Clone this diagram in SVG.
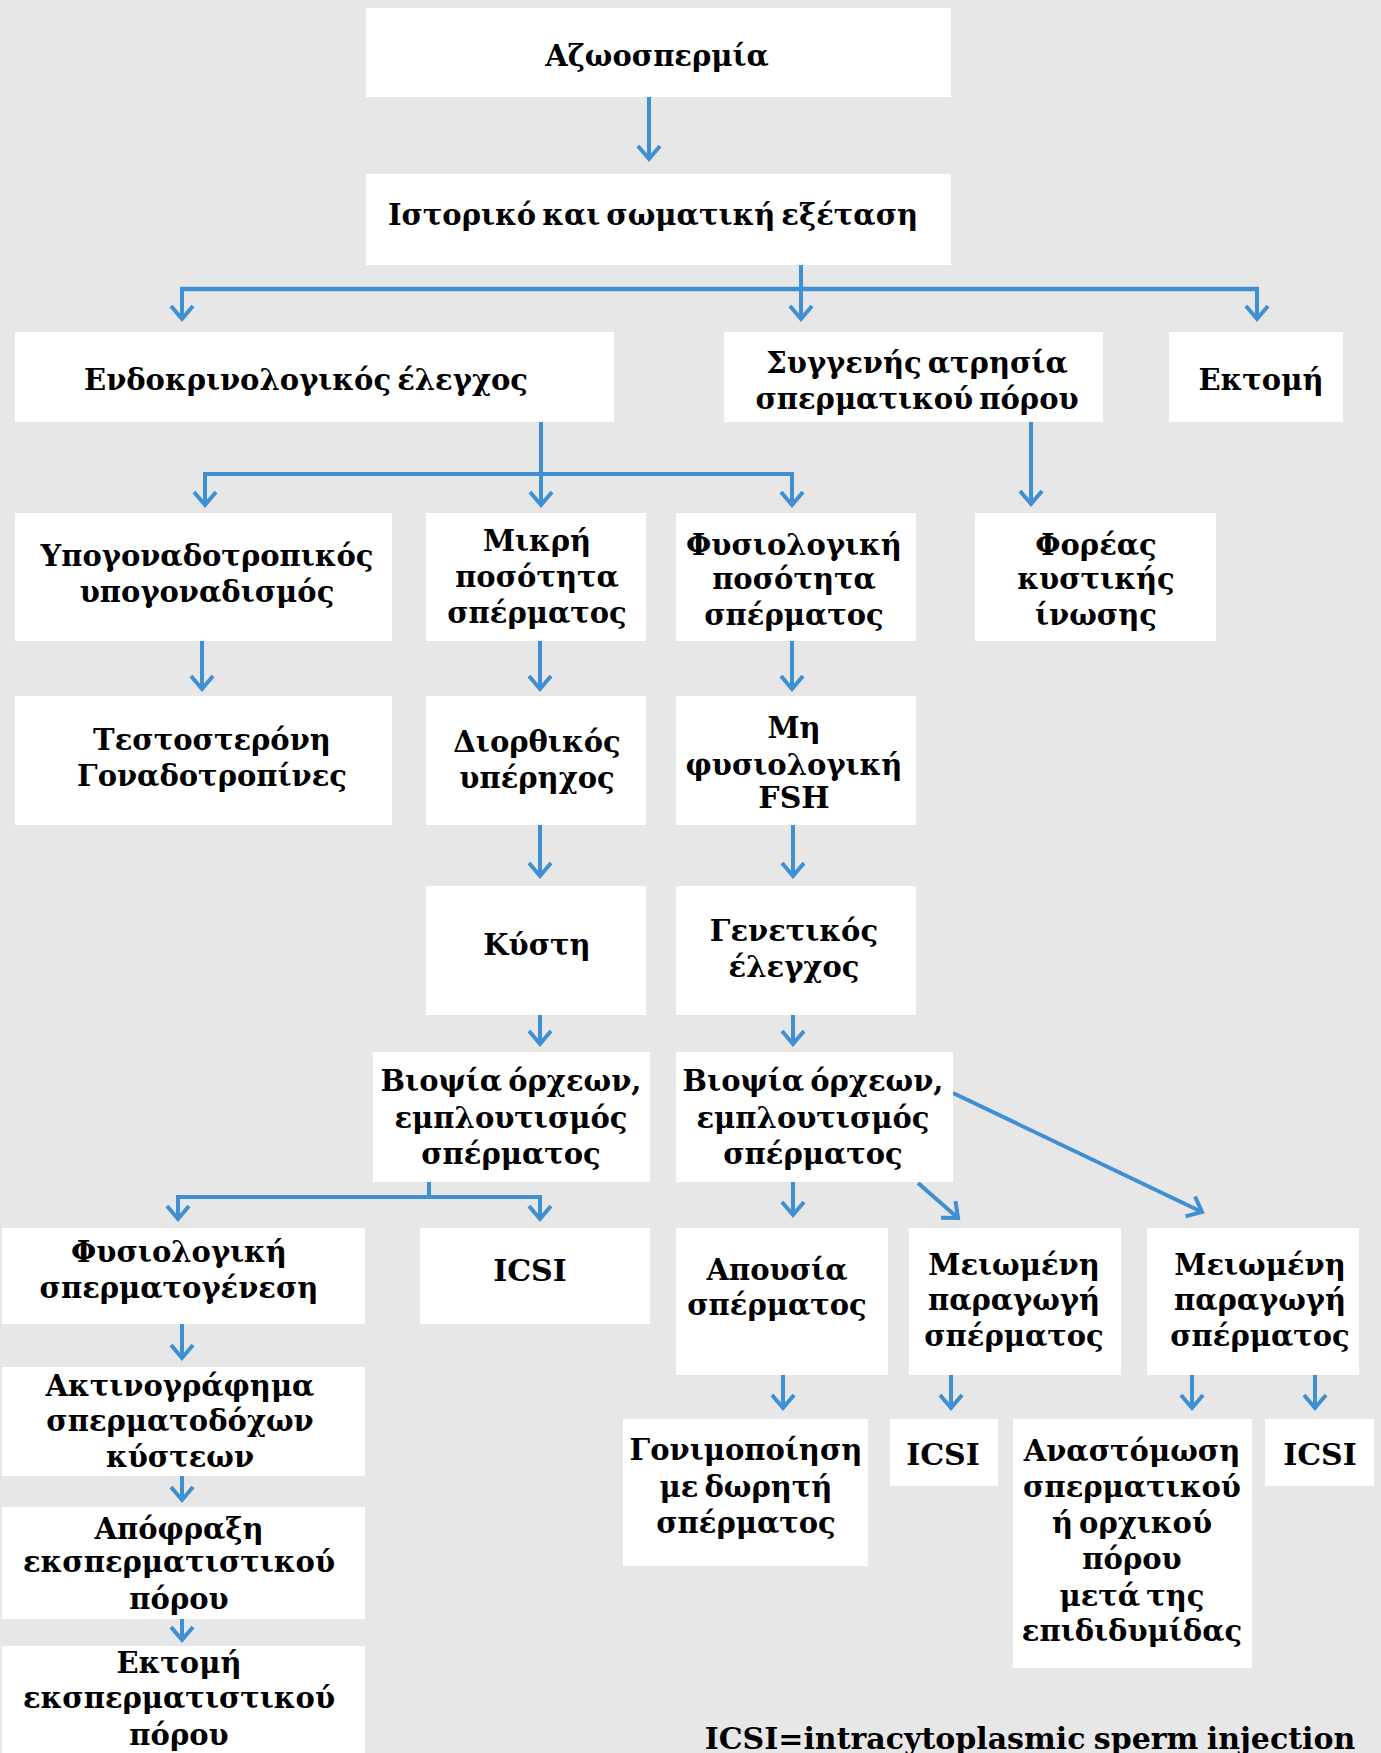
<svg xmlns="http://www.w3.org/2000/svg" width="1381" height="1753" viewBox="0 0 1381 1753">
<style>
.bg{fill:#e7e7e7}
.box{fill:#ffffff}
.t{font-family:"DejaVu Serif","Liberation Serif",serif;font-weight:bold;font-size:29px;word-spacing:-4px;fill:#000;text-anchor:middle}
.l{font-size:30px}
.c{stroke:#3f8fd4;stroke-width:4;fill:none}
.a{marker-end:url(#arr)}
</style>
<defs>
<marker id="arr" markerUnits="userSpaceOnUse" viewBox="-16 -14 20 28" markerWidth="20" markerHeight="28" refX="0" refY="0" orient="auto">
<path d="M-13,-11 L0,0 L-13,11" fill="none" stroke="#3f8fd4" stroke-width="4"/>
</marker>
</defs>
<rect class="bg" x="0" y="0" width="1381" height="1753"/>
<g id="connectors">
<line class="c a" x1="649" y1="97" x2="649" y2="159"/>
<line class="c a" x1="801" y1="265" x2="801" y2="319"/>
<line class="c" x1="180" y1="289" x2="1259" y2="289" style="stroke-width:4.5"/>
<line class="c a" x1="182" y1="287" x2="182" y2="319"/>
<line class="c a" x1="1257" y1="287" x2="1257" y2="319"/>
<line class="c a" x1="541" y1="422" x2="541" y2="505"/>
<line class="c" x1="203" y1="474" x2="794" y2="474"/>
<line class="c a" x1="205" y1="472" x2="205" y2="505"/>
<line class="c a" x1="792" y1="472" x2="792" y2="505"/>
<line class="c a" x1="1031" y1="422" x2="1031" y2="504"/>
<line class="c a" x1="202" y1="641" x2="202" y2="689"/>
<line class="c a" x1="540" y1="641" x2="540" y2="689"/>
<line class="c a" x1="792" y1="641" x2="792" y2="689"/>
<line class="c a" x1="540" y1="825" x2="540" y2="876"/>
<line class="c a" x1="793" y1="825" x2="793" y2="876"/>
<line class="c a" x1="540" y1="1015" x2="540" y2="1044"/>
<line class="c a" x1="793" y1="1015" x2="793" y2="1044"/>
<line class="c" x1="429" y1="1182" x2="429" y2="1197"/>
<line class="c" x1="176" y1="1197" x2="542" y2="1197"/>
<line class="c a" x1="178" y1="1195" x2="178" y2="1219"/>
<line class="c a" x1="540" y1="1195" x2="540" y2="1219"/>
<line class="c a" x1="793" y1="1182" x2="793" y2="1215"/>
<line class="c a" x1="918" y1="1183" x2="958" y2="1218"/>
<line class="c a" x1="953" y1="1093" x2="1202" y2="1212"/>
<line class="c a" x1="182" y1="1324" x2="182" y2="1358"/>
<line class="c a" x1="182" y1="1476" x2="182" y2="1500"/>
<line class="c a" x1="182" y1="1619" x2="182" y2="1640"/>
<line class="c a" x1="783" y1="1375" x2="783" y2="1408"/>
<line class="c a" x1="951" y1="1375" x2="951" y2="1408"/>
<line class="c a" x1="1192" y1="1375" x2="1192" y2="1408"/>
<line class="c a" x1="1315" y1="1375" x2="1315" y2="1408"/>
</g>
<g id="n1"><rect class="box" x="366" y="8" width="585" height="89"/><text class="t" x="657" y="66">Αζωοσπερμία</text></g>
<g id="n2"><rect class="box" x="366" y="174" width="585" height="91"/><text class="t" x="653" y="225">Ιστορικό και σωματική εξέταση</text></g>
<g id="n3"><rect class="box" x="15" y="332" width="599" height="90"/><text class="t" x="306" y="390">Ενδοκρινολογικός έλεγχος</text></g>
<g id="n4"><rect class="box" x="724" y="332" width="379" height="90"/><text class="t" x="917" y="373">Συγγενής ατρησία</text><text class="t" x="917" y="409">σπερματικού πόρου</text></g>
<g id="n5"><rect class="box" x="1169" y="332" width="174" height="90"/><text class="t" x="1261" y="390">Εκτομή</text></g>
<g id="n6"><rect class="box" x="15" y="513" width="377" height="128"/><text class="t" x="207" y="566">Υπογοναδοτροπικός</text><text class="t" x="207" y="602">υπογοναδισμός</text></g>
<g id="n7"><rect class="box" x="426" y="513" width="220" height="128"/><text class="t" x="537" y="551">Μικρή</text><text class="t" x="537" y="587">ποσότητα</text><text class="t" x="537" y="623">σπέρματος</text></g>
<g id="n8"><rect class="box" x="676" y="513" width="240" height="128"/><text class="t" x="794" y="555">Φυσιολογική</text><text class="t" x="794" y="589">ποσότητα</text><text class="t" x="794" y="625">σπέρματος</text></g>
<g id="n9"><rect class="box" x="975" y="513" width="241" height="128"/><text class="t" x="1096" y="555">Φορέας</text><text class="t" x="1096" y="589">κυστικής</text><text class="t" x="1096" y="625">ίνωσης</text></g>
<g id="n10"><rect class="box" x="15" y="696" width="377" height="129"/><text class="t" x="212" y="750">Τεστοστερόνη</text><text class="t" x="212" y="786">Γοναδοτροπίνες</text></g>
<g id="n11"><rect class="box" x="426" y="696" width="220" height="129"/><text class="t" x="537" y="752">Διορθικός</text><text class="t" x="537" y="788">υπέρηχος</text></g>
<g id="n12"><rect class="box" x="676" y="696" width="240" height="129"/><text class="t" x="794" y="738">Μη</text><text class="t" x="794" y="775">φυσιολογική</text><text class="t l" x="794" y="808">FSH</text></g>
<g id="n13"><rect class="box" x="426" y="886" width="220" height="129"/><text class="t" x="537" y="955">Κύστη</text></g>
<g id="n14"><rect class="box" x="676" y="886" width="240" height="129"/><text class="t" x="794" y="941">Γενετικός</text><text class="t" x="794" y="977">έλεγχος</text></g>
<g id="n15"><rect class="box" x="373" y="1052" width="277" height="130"/><text class="t" x="511" y="1091">Βιοψία όρχεων,</text><text class="t" x="511" y="1128">εμπλουτισμός</text><text class="t" x="511" y="1164">σπέρματος</text></g>
<g id="n16"><rect class="box" x="676" y="1052" width="277" height="130"/><text class="t" x="813" y="1091">Βιοψία όρχεων,</text><text class="t" x="813" y="1128">εμπλουτισμός</text><text class="t" x="813" y="1164">σπέρματος</text></g>
<g id="n17"><rect class="box" x="2" y="1228" width="363" height="96"/><text class="t" x="179" y="1262">Φυσιολογική</text><text class="t" x="179" y="1298">σπερματογένεση</text></g>
<g id="n18"><rect class="box" x="420" y="1228" width="230" height="96"/><text class="t l" x="530" y="1281">ICSI</text></g>
<g id="n19"><rect class="box" x="676" y="1228" width="212" height="147"/><text class="t" x="777" y="1280">Απουσία</text><text class="t" x="777" y="1315">σπέρματος</text></g>
<g id="n20"><rect class="box" x="909" y="1228" width="212" height="147"/><text class="t" x="1014" y="1275">Μειωμένη</text><text class="t" x="1014" y="1310">παραγωγή</text><text class="t" x="1014" y="1346">σπέρματος</text></g>
<g id="n21"><rect class="box" x="1147" y="1228" width="212" height="147"/><text class="t" x="1260" y="1275">Μειωμένη</text><text class="t" x="1260" y="1310">παραγωγή</text><text class="t" x="1260" y="1346">σπέρματος</text></g>
<g id="n22"><rect class="box" x="2" y="1367" width="363" height="109"/><text class="t" x="180" y="1396">Ακτινογράφημα</text><text class="t" x="180" y="1431">σπερματοδόχων</text><text class="t" x="180" y="1467">κύστεων</text></g>
<g id="n23"><rect class="box" x="2" y="1507" width="363" height="112"/><text class="t" x="179" y="1539">Απόφραξη</text><text class="t" x="179" y="1572">εκσπερματιστικού</text><text class="t" x="179" y="1609">πόρου</text></g>
<g id="n24"><rect class="box" x="2" y="1646" width="363" height="110"/><text class="t" x="179" y="1673">Εκτομή</text><text class="t" x="179" y="1708">εκσπερματιστικού</text><text class="t" x="179" y="1745">πόρου</text></g>
<g id="n25"><rect class="box" x="623" y="1419" width="245" height="147"/><text class="t" x="746" y="1460">Γονιμοποίηση</text><text class="t" x="746" y="1497">με δωρητή</text><text class="t" x="746" y="1533">σπέρματος</text></g>
<g id="n26"><rect class="box" x="890" y="1419" width="108" height="67"/><text class="t l" x="943" y="1465">ICSI</text></g>
<g id="n27"><rect class="box" x="1013" y="1419" width="239" height="249"/><text class="t" x="1132" y="1461">Αναστόμωση</text><text class="t" x="1132" y="1497">σπερματικού</text><text class="t" x="1132" y="1533">ή ορχικού</text><text class="t" x="1132" y="1569">πόρου</text><text class="t" x="1132" y="1606">μετά της</text><text class="t" x="1132" y="1641">επιδιδυμίδας</text></g>
<g id="n28"><rect class="box" x="1265" y="1419" width="109" height="67"/><text class="t l" x="1320" y="1465">ICSI</text></g>
<text class="t l" x="1030" y="1749" style="word-spacing:-2px">ICSI=intracytoplasmic sperm injection</text>
</svg>
